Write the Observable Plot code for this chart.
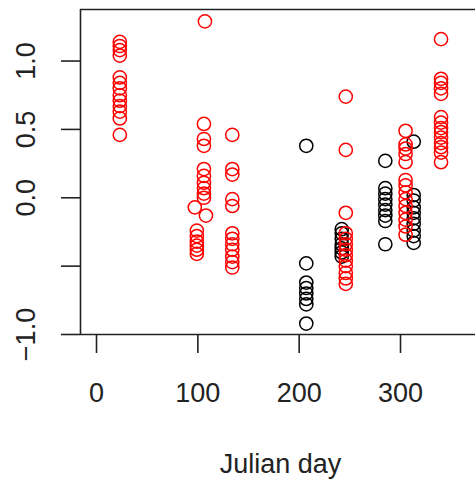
<!DOCTYPE html>
<html>
<head>
<meta charset="utf-8">
<script src="https://cdn.jsdelivr.net/npm/d3@7"></script>
<script src="https://cdn.jsdelivr.net/npm/@observablehq/plot@0.6"></script>
<style>
  html, body { margin: 0; padding: 0; background: #fff; overflow: hidden; }
</style>
</head>
<body>
<div id="chart"></div>
<script>
// ---- data ----
const redDays = [
  23,23,23,23,23,23,23,23,23,23,23,23,23,
  107,106,106,106,106,106,106,106,106,106,97,108,99,99,99,99,99,99,
  134,134,134,134,134,134,134,134,134,134,134,134,
  246,246,246,246,246,246,246,246,246,246,246,246,246,
  305,305,305,305,305,305,305,305,305,305,305,305,305,305,
  340,340,340,340,340,340,340,340,340,340,340,340,340,340
];
const redValues = [
  1.14,1.11,1.08,1.04,0.88,0.84,0.80,0.75,0.71,0.67,0.63,0.58,0.46,
  1.29,0.54,0.43,0.38,0.21,0.16,0.11,0.07,0.03,0.00,-0.07,-0.13,-0.24,-0.28,-0.32,-0.35,-0.38,-0.41,
  0.46,0.21,0.17,-0.01,-0.06,-0.26,-0.30,-0.34,-0.38,-0.43,-0.47,-0.51,
  0.74,0.35,-0.11,-0.26,-0.30,-0.34,-0.38,-0.42,-0.46,-0.50,-0.55,-0.59,-0.63,
  0.49,0.39,0.36,0.32,0.26,0.13,0.09,0.04,-0.01,-0.06,-0.11,-0.16,-0.21,-0.27,
  1.16,0.87,0.84,0.80,0.76,0.59,0.55,0.51,0.48,0.44,0.40,0.37,0.33,0.26
];
const blackDays = [
  207,207,207,207,207,207,207,207,
  242,242,242,242,242,242,242,
  285,285,285,285,285,285,285,285,285,
  313,313,313,313,313,313,313,313,313,313
];
const blackValues = [
  0.38,-0.48,-0.62,-0.66,-0.70,-0.74,-0.78,-0.92,
  -0.23,-0.26,-0.30,-0.34,-0.37,-0.40,-0.43,
  0.27,0.07,0.03,-0.01,-0.05,-0.09,-0.13,-0.17,-0.34,
  0.41,0.02,-0.02,-0.07,-0.11,-0.15,-0.19,-0.24,-0.28,-0.33
];
const xTicks = [0, 100, 200, 300];
const xTickLabels = ["0", "100", "200", "300"];
const yTicks = [-1, -0.5, 0, 0.5, 1];
const yTickLabels = ["\u22121.0", "", "0.0", "0.5", "1.0"];
const xTitle = "Julian day";

// ---- assemble ----
const red = redDays.map((d, i) => ({day: d, value: redValues[i]}));
const black = blackDays.map((d, i) => ({day: d, value: blackValues[i]}));
const xDomain = [-15.8, 374.0];
const yDomain = [-1.0, 1.377];
const ink = "#222";
const fs = 27;

const chart = Plot.plot({
  width: 475,
  height: 484,
  marginLeft: 80,
  marginRight: 0,
  marginTop: 9,
  marginBottom: 150,
  style: {fontFamily: "'Liberation Sans', Arial, sans-serif", background: "#fff", overflow: "visible"},
  x: {domain: xDomain, axis: null},
  y: {domain: yDomain, axis: null},
  marks: [
    // box (left, top, bottom — right edge lies outside the picture)
    Plot.ruleX([xDomain[0]], {stroke: ink, strokeWidth: 1.6}),
    Plot.ruleY([yDomain[1], yDomain[0]], {stroke: ink, strokeWidth: 1.6}),
    // axis ticks
    Plot.axisX({ticks: xTicks, tickSize: 19, tickFormat: () => "", label: null, stroke: ink, strokeWidth: 1.6}),
    Plot.axisY({ticks: yTicks, tickSize: 19, tickFormat: () => "", label: null, stroke: ink, strokeWidth: 1.6}),
    // tick labels
    Plot.text(xTicks, {x: d => d, text: (d, i) => xTickLabels[i], frameAnchor: "bottom",
      lineAnchor: "top", dy: 48, fontSize: fs, fill: ink}),
    Plot.text(yTicks, {y: d => d, text: (d, i) => yTickLabels[i], frameAnchor: "left",
      rotate: -90, textAnchor: "middle", lineAnchor: "middle", dx: -54, fontSize: fs, fill: ink}),
    Plot.text([xTitle], {text: d => d, frameAnchor: "bottom", lineAnchor: "top",
      dy: 119, dx: 2.5, fontSize: fs, fill: ink}),
    // points
    Plot.dot(black, {x: "day", y: "value", r: 6.6, stroke: "#000", strokeWidth: 1.5, fill: "none"}),
    Plot.dot(red, {x: "day", y: "value", r: 6.6, stroke: "#ff0000", strokeWidth: 1.5, fill: "none"})
  ]
});
document.getElementById("chart").appendChild(chart);
</script>
</body>
</html>
